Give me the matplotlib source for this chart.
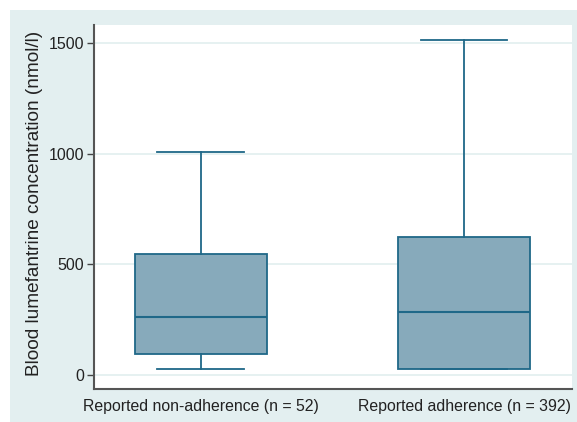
import matplotlib
matplotlib.use("Agg")
import matplotlib.pyplot as plt
from matplotlib.patches import Rectangle

plt.rcParams['font.family'] = ['Liberation Sans', 'DejaVu Sans']

categories = ["Reported non-adherence (n = 52)", "Reported adherence (n = 392)"]
whisker_low = [26, 27]
q1 = [95, 27]
median = [261, 286]
q3 = [547, 622]
whisker_high = [1008, 1514]
yticks = [0, 500, 1000, 1500]

W, H = 577, 422
fig = plt.figure(figsize=(W / 100, H / 100), dpi=100, facecolor="white")
fig.patches.append(Rectangle((10 / W, 0), 1 - 10 / W, 1 - 10 / H,
                             transform=fig.transFigure, facecolor="#e3eff0",
                             edgecolor="none", zorder=-10))
ax = fig.add_axes([94 / W, (H - 389) / H, (572 - 94) / W, (389 - 25) / H])
ax.set_facecolor("white")

stats = []
for i in range(len(categories)):
    stats.append(dict(whislo=whisker_low[i], q1=q1[i], med=median[i],
                      q3=q3[i], whishi=whisker_high[i], fliers=[]))

edge = "#1f6888"
positions = [1, 2]
ax.bxp(stats, positions=positions, widths=0.5, patch_artist=True,
       showfliers=False,
       boxprops=dict(facecolor="#87aabb", edgecolor=edge, linewidth=1.3),
       medianprops=dict(color=edge, linewidth=1.5),
       whiskerprops=dict(color=edge, linewidth=1.3),
       capprops=dict(color=edge, linewidth=1.3),
       capwidths=0.33, zorder=3)

ax.set_xlim(0.595, 2.41)
ax.set_ylim(-63, 1581)
ax.set_yticks(yticks)
ax.set_yticklabels([str(t) for t in yticks], fontsize=11.5, color="#222222")
ax.set_xticks(positions)
ax.set_xticklabels(categories, fontsize=11.4, color="#222222")
ax.tick_params(axis="x", length=0, pad=7)
ax.tick_params(axis="y", length=5, width=1, color="#444444", pad=2)
ax.grid(axis="y", color="#e2efef", linewidth=1.2, zorder=0)
ax.set_axisbelow(True)
for s in ["top", "right"]:
    ax.spines[s].set_visible(False)
for s in ["left", "bottom"]:
    ax.spines[s].set_color("#555555")
    ax.spines[s].set_linewidth(1.5)

ax.set_ylabel("Blood lumefantrine concentration (nmol/l)", fontsize=13.7,
              color="#222222", labelpad=4)
ax.yaxis.label.set_y(0.509)

fig.savefig("out.png", dpi=100, facecolor=fig.get_facecolor())
